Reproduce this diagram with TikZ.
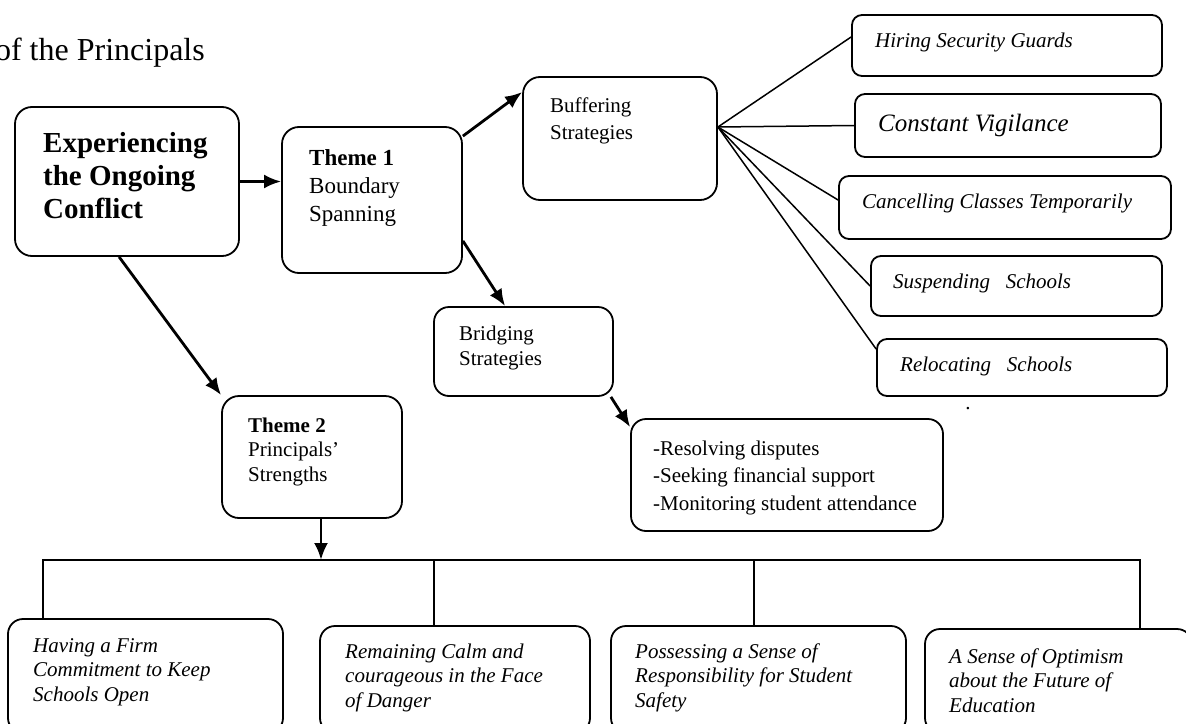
\documentclass[tikz,border=0pt]{standalone}
\usepackage{fontspec}
\setmainfont{Liberation Serif}
\usetikzlibrary{arrows.meta,calc}

\begin{document}
\begin{tikzpicture}[x=1pt,y=-1pt,
	box/.style 2 args={draw,line width=1.8pt,rounded corners=17pt,minimum width=#1,minimum height=#2,inner sep=0pt},
	sbox/.style 2 args={box={#1}{#2},rounded corners=10pt},
	txt/.style={anchor=base west,inner sep=0pt,align=left},
	arr/.style={line width=2.8pt,-{Latex[length=17pt,width=14pt]}},
	fan/.style={line width=1.5pt},
	tree/.style={line width=2pt}]
	\useasboundingbox (0,0) rectangle (1186,723);
	\node[anchor=base east,inner sep=0pt,font=\fontsize{32}{38}\selectfont] (title) at (205,60) {of the Principals};
	% main boxes
	\node[box={224pt}{149pt}] (exp) at (127,181.5) {};
	\node[box={180pt}{146pt}] (th1) at (372,200) {};
	\node[box={194pt}{123pt}] (buf) at (620,138.5) {};
	\node[box={179pt}{89pt},rounded corners=15pt] (bri) at (523.5,351.5) {};
	\node[box={180pt}{122pt}] (th2) at (312,457) {};
	\node[box={312pt}{112pt},rounded corners=15pt] (res) at (787,475) {};
	% base anchor = last line
	\node[txt,font=\fontsize{29}{33}\selectfont\bfseries] (expT) at (43,218) {Experiencing\\the Ongoing\\Conflict};
	\node[txt,font=\fontsize{23}{28}\selectfont] (th1T) at (309,221) {\textbf{Theme 1}\\Boundary\\Spanning};
	\node[txt,font=\fontsize{21}{27}\selectfont] (bufT) at (550,139) {Buffering\\Strategies};
	\node[txt,font=\fontsize{21}{25}\selectfont] (briT) at (459,365) {Bridging\\Strategies};
	\node[txt,font=\fontsize{21}{24.5}\selectfont] (th2T) at (248,481) {\textbf{Theme 2}\\Principals’\\Strengths};
	\node[txt,font=\fontsize{21}{27.5}\selectfont] (resT) at (653,510) {-Resolving disputes\\-Seeking financial support\\-Monitoring student attendance};
	% buffering strategies
	\node[sbox={310pt}{61pt}] (hir) at (1007,45.5) {};
	\node[sbox={306pt}{63pt}] (con) at (1008,125.5) {};
	\node[sbox={332pt}{63pt}] (can) at (1005,207.5) {};
	\node[sbox={291pt}{60pt}] (sus) at (1016.5,286) {};
	\node[sbox={290pt}{57pt}] (rel) at (1022,367.5) {};
	\node[txt,font=\fontsize{21}{25}\selectfont\itshape] (hirT) at (875,47) {Hiring Security Guards};
	\node[txt,font=\fontsize{25}{30}\selectfont\itshape] (conT) at (878,131) {Constant Vigilance};
	\node[txt,font=\fontsize{21}{25}\selectfont\itshape] (canT) at (862,208) {Cancelling Classes Temporarily};
	\node[txt,font=\fontsize{21}{25}\selectfont\itshape] (susT) at (893,288) {Suspending\ \ \ Schools};
	\node[txt,font=\fontsize{21}{25}\selectfont\itshape] (relT) at (900,371) {Relocating\ \ \ Schools};
	\node[anchor=base,inner sep=0pt,font=\fontsize{21}{25}\selectfont] (dot) at (968,409) {.};
	% strengths
	\node[box={275pt}{114pt},rounded corners=15pt] (hav) at (145.5,676) {};
	\node[box={270pt}{107pt},rounded corners=15pt] (rem) at (455,679.5) {};
	\node[box={295pt}{107pt},rounded corners=15pt] (pos) at (758.5,679.5) {};
	\node[box={267pt}{104pt},rounded corners=15pt] (opt) at (1058.5,681) {};
	\node[txt,font=\fontsize{21}{24.5}\selectfont\itshape] (havT) at (33,701) {Having a Firm\\Commitment to Keep\\Schools Open};
	\node[txt,font=\fontsize{21}{24.5}\selectfont\itshape] (remT) at (345,707) {Remaining Calm and\\courageous in the Face\\of Danger};
	\node[txt,font=\fontsize{21}{24.5}\selectfont\itshape] (posT) at (635,707) {Possessing a Sense of\\Responsibility for Student\\Safety};
	\node[txt,font=\fontsize{21}{24.5}\selectfont\itshape] (optT) at (949,712) {A Sense of Optimism\\about the Future of\\Education};
	% arrows
	\draw[arr] (exp.east) -- (exp.east -| th1.west);
	\draw[arr] ([yshift=-10pt]th1.north east) -- ([yshift=-16pt]buf.north west);
	\draw[arr] ([yshift=33pt]th1.south east) -- ([xshift=72pt]bri.north west);
	\draw[arr] ([xshift=-3pt]bri.south east) -- ([yshift=-9pt]res.north west);
	\draw[arr] ([xshift=105pt]exp.south west) -- (th2.north west);
	\coordinate (fan) at ([yshift=11.5pt]buf.east);
	\foreach \b/\s in {hir/8.5,con/0,can/7.5,sus/0,rel/18.5}
	\draw[fan] (fan) -- ([yshift=\s pt]\b.west);
	\coordinate (busL) at (43,560);
	\coordinate (busA) at (434,560);
	\coordinate (busB) at (754,560);
	\coordinate (busR) at (1140,560);
	\draw[arr] ([xshift=9pt]th2.south) -- ([xshift=9pt]th2.south |- busL);
	\draw[tree] (busL |- hav.north) -- (busL) -- (busR) -- (busR |- opt.north);
	\foreach \c/\b in {busA/rem,busB/pos}
	\draw[tree] (\c) -- (\c |- \b.north);
\end{tikzpicture}
\end{document}
